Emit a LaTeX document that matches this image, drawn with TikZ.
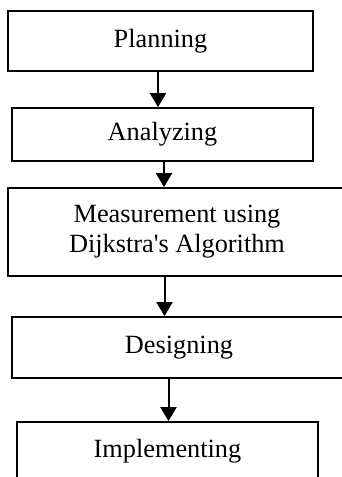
\documentclass[tikz,border=0pt]{standalone}
\usepackage{fontspec}
\setmainfont{Liberation Serif}
\usetikzlibrary{arrows.meta}
\newcommand{\drawstage}[6]{
	\pgfmathsetmacro{\cx}{(#2+#4)/2}
	\pgfmathsetmacro{\cy}{-(#3+#5)/2}
	\pgfmathsetmacro{\bw}{#4-#2}
	\pgfmathsetmacro{\bh}{#5-#3}
	\node[stagebox, minimum width=\bw pt, minimum height=\bh pt] (#1) at (\cx pt,\cy pt) {#6};
}

\begin{document}
\begin{tikzpicture}[
	stagebox/.style={draw, line width=1.8pt, inner sep=0pt, align=center,
		font=\fontsize{26.3}{30}\selectfont},
	flow/.style={line width=2pt, -{Triangle[width=16pt,length=14pt]}}]
	\useasboundingbox (0,0) rectangle (342pt,-477pt);
	% name, left, top, right, bottom, text
	\drawstage{plan}{8}{11}{313}{71}{Planning}
	\drawstage{analyze}{12}{108}{313}{161}{Analyzing}
	\drawstage{measure}{8}{188}{346}{276}{Measurement using\\Dijkstra\textquotesingle s Algorithm}
	\drawstage{design}{12}{317}{346}{378}{Designing}
	\drawstage{implement}{17}{422}{318}{480}{Implementing}
	\draw[flow] ([xshift=-2.5pt]plan.south) -- ([xshift=-2.5pt]plan.south |- analyze.north);
	\draw[flow] ([xshift=1.5pt]analyze.south) -- ([xshift=1.5pt]analyze.south |- measure.north);
	\draw[flow] ([xshift=-12.5pt]measure.south) -- ([xshift=-12.5pt]measure.south |- design.north);
	\draw[flow] ([xshift=-10.5pt]design.south) -- ([xshift=-10.5pt]design.south |- implement.north);
\end{tikzpicture}
\end{document}
